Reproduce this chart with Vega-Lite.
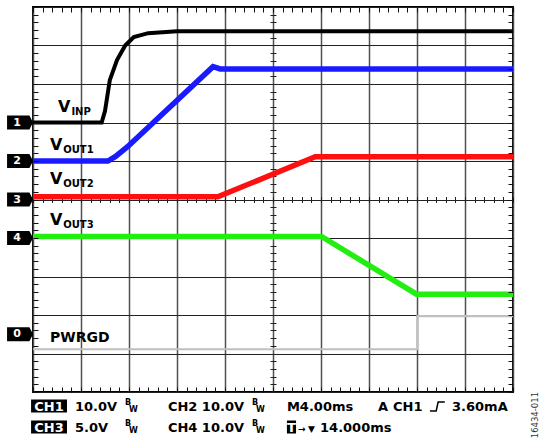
{
  "$schema": "https://vega.github.io/schema/vega-lite/v6.json",
  "width": 480,
  "height": 385,
  "autosize": "none",
  "padding": {"left": 33, "top": 7, "right": 29, "bottom": 48},
  "background": "white",
  "config": {
    "view": {"stroke": "#000000", "strokeWidth": 2},
    "text": {"font": "DejaVu Sans"}
  },
  "datasets": {
    "traces": [
      {"ch": "VINP", "x": 0, "y": 7.0},
      {"ch": "VINP", "x": 1.43, "y": 7.0},
      {"ch": "VINP", "x": 1.5, "y": 7.3},
      {"ch": "VINP", "x": 1.6, "y": 8.1},
      {"ch": "VINP", "x": 1.75, "y": 8.62},
      {"ch": "VINP", "x": 1.92, "y": 9.0},
      {"ch": "VINP", "x": 2.1, "y": 9.22},
      {"ch": "VINP", "x": 2.4, "y": 9.32},
      {"ch": "VINP", "x": 3.0, "y": 9.37},
      {"ch": "VINP", "x": 10, "y": 9.37},
      {"ch": "VOUT1", "x": 0, "y": 6.0},
      {"ch": "VOUT1", "x": 1.56, "y": 6.0},
      {"ch": "VOUT1", "x": 1.72, "y": 6.12},
      {"ch": "VOUT1", "x": 1.97, "y": 6.37},
      {"ch": "VOUT1", "x": 3.75, "y": 8.45},
      {"ch": "VOUT1", "x": 3.9, "y": 8.39},
      {"ch": "VOUT1", "x": 10, "y": 8.39},
      {"ch": "VOUT2", "x": 0, "y": 5.07},
      {"ch": "VOUT2", "x": 3.85, "y": 5.07},
      {"ch": "VOUT2", "x": 5.88, "y": 6.11},
      {"ch": "VOUT2", "x": 10, "y": 6.11},
      {"ch": "VOUT3", "x": 0, "y": 4.04},
      {"ch": "VOUT3", "x": 6.01, "y": 4.04},
      {"ch": "VOUT3", "x": 7.99, "y": 2.54},
      {"ch": "VOUT3", "x": 10, "y": 2.54},
      {"ch": "PWRGD", "x": 0, "y": 1.11},
      {"ch": "PWRGD", "x": 8.01, "y": 1.11},
      {"ch": "PWRGD", "x": 8.01, "y": 1.97},
      {"ch": "PWRGD", "x": 10, "y": 1.97}
    ],
    "markers": [
      {"num": "1", "x": -0.27, "y": 7.0},
      {"num": "2", "x": -0.27, "y": 6.0},
      {"num": "3", "x": -0.27, "y": 5.0},
      {"num": "4", "x": -0.27, "y": 4.0},
      {"num": "0", "x": -0.27, "y": 1.5}
    ],
    "labels": [
      {"part": "V", "text": "V", "x": 0.52, "y": 7.27},
      {"part": "sub", "text": "INP", "x": 0.8, "y": 7.19},
      {"part": "V", "text": "V", "x": 0.354, "y": 6.29},
      {"part": "sub", "text": "OUT1", "x": 0.63, "y": 6.21},
      {"part": "V", "text": "V", "x": 0.354, "y": 5.4},
      {"part": "sub", "text": "OUT2", "x": 0.63, "y": 5.32},
      {"part": "V", "text": "V", "x": 0.354, "y": 4.34},
      {"part": "sub", "text": "OUT3", "x": 0.63, "y": 4.26},
      {"part": "name", "text": "PWRGD", "x": 0.354, "y": 1.3}
    ],
    "boxes": [
      {"x": -0.04, "x2": 0.708, "y": -0.195, "y2": -0.532},
      {"x": -0.04, "x2": 0.708, "y": -0.74, "y2": -1.078},
      {"x": 5.29, "x2": 5.48, "y": -0.74, "y2": -1.078}
    ],
    "footer": [
      {"kind": "inv", "text": "CH1", "x": 0.334, "y": -0.494},
      {"kind": "inv", "text": "CH3", "x": 0.334, "y": -1.039},
      {"kind": "inv", "text": "T", "x": 5.385, "y": -1.039},
      {"kind": "main", "text": "10.0V", "x": 0.875, "y": -0.494},
      {"kind": "main", "text": "CH2 10.0V", "x": 2.81, "y": -0.494},
      {"kind": "main", "text": "M4.00ms", "x": 5.29, "y": -0.494},
      {"kind": "main", "text": "A", "x": 7.19, "y": -0.494},
      {"kind": "main", "text": "CH1", "x": 7.5, "y": -0.494},
      {"kind": "main", "text": "3.60mA", "x": 8.73, "y": -0.494},
      {"kind": "main", "text": "5.0V", "x": 0.875, "y": -1.039},
      {"kind": "main", "text": "CH4 10.0V", "x": 2.81, "y": -1.039},
      {"kind": "main", "text": "14.000ms", "x": 5.98, "y": -1.039},
      {"kind": "sup", "text": "B", "x": 1.917, "y": -0.338},
      {"kind": "sup", "text": "W", "x": 2.0, "y": -0.52},
      {"kind": "sup", "text": "B", "x": 4.56, "y": -0.338},
      {"kind": "sup", "text": "W", "x": 4.645, "y": -0.52},
      {"kind": "sup", "text": "B", "x": 1.917, "y": -0.883},
      {"kind": "sup", "text": "W", "x": 2.0, "y": -1.065},
      {"kind": "sup", "text": "B", "x": 4.56, "y": -0.883},
      {"kind": "sup", "text": "W", "x": 4.645, "y": -1.065},
      {"kind": "sym", "text": "→", "x": 5.52, "y": -1.039},
      {"kind": "sym", "text": "▼", "x": 5.73, "y": -1.039}
    ],
    "edge": [
      {"x": 8.27, "y": -0.494},
      {"x": 8.4, "y": -0.494},
      {"x": 8.44, "y": -0.26},
      {"x": 8.58, "y": -0.26}
    ],
    "code": [
      {"text": "16434-011", "x": 10.458, "y": -0.6}
    ]
  },
  "resolve": {"axis": {"x": "independent", "y": "independent"}},
  "layer": [
    {
      "data": {"name": "traces"},
      "transform": [{"filter": "datum.ch === 'VOUT1' || datum.ch === 'VOUT2' || datum.ch === 'VOUT3'"}],
      "mark": {"type": "line", "clip": false, "strokeWidth": 5.5},
      "encoding": {
        "x": {"field": "x", "type": "quantitative", "scale": {"domain": [0, 10], "nice": false, "zero": false},
          "axis": {"orient": "bottom", "values": [0,1,2,3,4,5,6,7,8,9,10], "grid": true, "gridColor": "#505050", "gridWidth": 1.5, "gridOpacity": 1, "ticks": false, "labels": false, "domain": false, "title": null}},
        "y": {"field": "y", "type": "quantitative", "scale": {"domain": [0, 10], "nice": false, "zero": false},
          "axis": {"orient": "left", "values": [0,1,2,3,4,5,6,7,8,9,10], "grid": true, "gridColor": "#222222", "gridWidth": 1, "gridOpacity": 1, "ticks": false, "labels": false, "domain": false, "title": null}},
        "color": {"field": "ch", "type": "nominal", "legend": null,
          "scale": {"domain": ["VINP", "VOUT1", "VOUT2", "VOUT3", "PWRGD"], "range": ["#000000", "#1a1aff", "#ff1010", "#22ee11", "#c0c0c0"]}},
        "order": {"value": null}
      }
    },
    {
      "data": {"name": "traces"},
      "transform": [{"filter": "datum.ch === 'VINP'"}],
      "mark": {"type": "line", "clip": false, "strokeWidth": 4, "color": "#000000"},
      "encoding": {
        "x": {"field": "x", "type": "quantitative", "scale": {"domain": [0, 10], "nice": false, "zero": false}, "axis": null},
        "y": {"field": "y", "type": "quantitative", "scale": {"domain": [0, 10], "nice": false, "zero": false}, "axis": null},
        "order": {"value": null}
      }
    },
    {
      "data": {"name": "traces"},
      "transform": [{"filter": "datum.ch === 'PWRGD'"}],
      "mark": {"type": "line", "clip": false, "strokeWidth": 2.2, "color": "#c0c0c0"},
      "encoding": {
        "x": {"field": "x", "type": "quantitative", "scale": {"domain": [0, 10], "nice": false, "zero": false}, "axis": null},
        "y": {"field": "y", "type": "quantitative", "scale": {"domain": [0, 10], "nice": false, "zero": false}, "axis": null},
        "order": {"value": null}
      }
    },
    {
      "data": {"name": "markers"},
      "mark": {"type": "point", "filled": true, "clip": false, "opacity": 1, "color": "#000000", "size": 676,
        "shape": "M-1,-0.54L0.72,-0.54L1,0L0.72,0.54L-1,0.54Z"},
      "encoding": {
        "x": {"field": "x", "type": "quantitative", "scale": {"domain": [0, 10], "nice": false, "zero": false},
          "axis": {"orient": "top", "values": [0,0.2,0.4,0.6,0.8,1,1.2,1.4,1.6,1.8,2,2.2,2.4,2.6,2.8,3,3.2,3.4,3.6,3.8,4,4.2,4.4,4.6,4.8,5,5.2,5.4,5.6,5.8,6,6.2,6.4,6.6,6.8,7,7.2,7.4,7.6,7.8,8,8.2,8.4,8.6,8.8,9,9.2,9.4,9.6,9.8,10], "grid": false, "ticks": true, "tickSize": -5, "tickColor": "#111111", "tickWidth": 1, "labels": false, "domain": false, "title": null, "zindex": 1}},
        "y": {"field": "y", "type": "quantitative", "scale": {"domain": [0, 10], "nice": false, "zero": false},
          "axis": {"orient": "left", "values": [0,0.2,0.4,0.6,0.8,1,1.2,1.4,1.6,1.8,2,2.2,2.4,2.6,2.8,3,3.2,3.4,3.6,3.8,4,4.2,4.4,4.6,4.8,5,5.2,5.4,5.6,5.8,6,6.2,6.4,6.6,6.8,7,7.2,7.4,7.6,7.8,8,8.2,8.4,8.6,8.8,9,9.2,9.4,9.6,9.8,10], "grid": false, "ticks": true, "tickSize": -5, "tickColor": "#111111", "tickWidth": 1, "labels": false, "domain": false, "title": null, "zindex": 1}}
      }
    },
    {
      "data": {"name": "markers"},
      "mark": {"type": "text", "clip": false, "color": "#ffffff", "font": "DejaVu Sans", "fontWeight": "bold", "fontSize": 11, "align": "center", "baseline": "middle", "dx": -3},
      "encoding": {
        "x": {"field": "x", "type": "quantitative", "scale": {"domain": [0, 10], "nice": false, "zero": false},
          "axis": {"orient": "bottom", "values": [0,0.2,0.4,0.6,0.8,1,1.2,1.4,1.6,1.8,2,2.2,2.4,2.6,2.8,3,3.2,3.4,3.6,3.8,4,4.2,4.4,4.6,4.8,5,5.2,5.4,5.6,5.8,6,6.2,6.4,6.6,6.8,7,7.2,7.4,7.6,7.8,8,8.2,8.4,8.6,8.8,9,9.2,9.4,9.6,9.8,10], "grid": false, "ticks": true, "tickSize": -5, "tickColor": "#111111", "tickWidth": 1, "labels": false, "domain": false, "title": null, "zindex": 1}},
        "y": {"field": "y", "type": "quantitative", "scale": {"domain": [0, 10], "nice": false, "zero": false},
          "axis": {"orient": "right", "values": [0,0.2,0.4,0.6,0.8,1,1.2,1.4,1.6,1.8,2,2.2,2.4,2.6,2.8,3,3.2,3.4,3.6,3.8,4,4.2,4.4,4.6,4.8,5,5.2,5.4,5.6,5.8,6,6.2,6.4,6.6,6.8,7,7.2,7.4,7.6,7.8,8,8.2,8.4,8.6,8.8,9,9.2,9.4,9.6,9.8,10], "grid": false, "ticks": true, "tickSize": -5, "tickColor": "#111111", "tickWidth": 1, "labels": false, "domain": false, "title": null, "zindex": 1}},
        "text": {"field": "num", "type": "nominal"}
      }
    },
    {
      "data": {"name": "labels"},
      "transform": [{"filter": "datum.part === 'V'"}],
      "mark": {"type": "text", "clip": false, "color": "#000000", "font": "DejaVu Sans", "fontWeight": "bold", "fontSize": 16, "align": "left", "baseline": "alphabetic"},
      "encoding": {
        "x": {"field": "x", "type": "quantitative", "scale": {"domain": [0, 10], "nice": false, "zero": false},
          "axis": {"orient": "bottom", "offset": -195.5, "values": [0,0.2,0.4,0.6,0.8,1,1.2,1.4,1.6,1.8,2,2.2,2.4,2.6,2.8,3,3.2,3.4,3.6,3.8,4,4.2,4.4,4.6,4.8,5,5.2,5.4,5.6,5.8,6,6.2,6.4,6.6,6.8,7,7.2,7.4,7.6,7.8,8,8.2,8.4,8.6,8.8,9,9.2,9.4,9.6,9.8,10], "grid": false, "ticks": true, "tickSize": 6, "tickColor": "#222222", "tickWidth": 1, "labels": false, "domain": false, "title": null, "zindex": 0}},
        "y": {"field": "y", "type": "quantitative", "scale": {"domain": [0, 10], "nice": false, "zero": false},
          "axis": {"orient": "left", "offset": -243, "values": [0,0.2,0.4,0.6,0.8,1,1.2,1.4,1.6,1.8,2,2.2,2.4,2.6,2.8,3,3.2,3.4,3.6,3.8,4,4.2,4.4,4.6,4.8,5,5.2,5.4,5.6,5.8,6,6.2,6.4,6.6,6.8,7,7.2,7.4,7.6,7.8,8,8.2,8.4,8.6,8.8,9,9.2,9.4,9.6,9.8,10], "grid": false, "ticks": true, "tickSize": 6, "tickColor": "#222222", "tickWidth": 1, "labels": false, "domain": false, "title": null, "zindex": 0}},
        "text": {"field": "text", "type": "nominal"}
      }
    },
    {
      "data": {"name": "labels"},
      "transform": [{"filter": "datum.part === 'sub'"}],
      "mark": {"type": "text", "clip": false, "color": "#000000", "font": "DejaVu Sans", "fontWeight": "bold", "fontSize": 10, "align": "left", "baseline": "alphabetic"},
      "encoding": {
        "x": {"field": "x", "type": "quantitative", "scale": {"domain": [0, 10], "nice": false, "zero": false}, "axis": null},
        "y": {"field": "y", "type": "quantitative", "scale": {"domain": [0, 10], "nice": false, "zero": false}, "axis": null},
        "text": {"field": "text", "type": "nominal"}
      }
    },
    {
      "data": {"name": "labels"},
      "transform": [{"filter": "datum.part === 'name'"}],
      "mark": {"type": "text", "clip": false, "color": "#000000", "font": "DejaVu Sans", "fontWeight": "bold", "fontSize": 14, "align": "left", "baseline": "alphabetic"},
      "encoding": {
        "x": {"field": "x", "type": "quantitative", "scale": {"domain": [0, 10], "nice": false, "zero": false}, "axis": null},
        "y": {"field": "y", "type": "quantitative", "scale": {"domain": [0, 10], "nice": false, "zero": false}, "axis": null},
        "text": {"field": "text", "type": "nominal"}
      }
    },
    {
      "data": {"name": "boxes"},
      "mark": {"type": "rect", "clip": false, "color": "#000000"},
      "encoding": {
        "x": {"field": "x", "type": "quantitative", "scale": {"domain": [0, 10], "nice": false, "zero": false}, "axis": null},
        "x2": {"field": "x2"},
        "y": {"field": "y", "type": "quantitative", "scale": {"domain": [0, 10], "nice": false, "zero": false}, "axis": null},
        "y2": {"field": "y2"}
      }
    },
    {
      "data": {"name": "footer"},
      "transform": [{"filter": "datum.kind === 'inv'"}],
      "mark": {"type": "text", "clip": false, "color": "#ffffff", "font": "DejaVu Sans", "fontWeight": "bold", "fontSize": 13, "align": "center", "baseline": "alphabetic"},
      "encoding": {
        "x": {"field": "x", "type": "quantitative", "scale": {"domain": [0, 10], "nice": false, "zero": false}, "axis": null},
        "y": {"field": "y", "type": "quantitative", "scale": {"domain": [0, 10], "nice": false, "zero": false}, "axis": null},
        "text": {"field": "text", "type": "nominal"}
      }
    },
    {
      "data": {"name": "footer"},
      "transform": [{"filter": "datum.kind === 'main'"}],
      "mark": {"type": "text", "clip": false, "color": "#000000", "font": "DejaVu Sans", "fontWeight": "bold", "fontSize": 13, "align": "left", "baseline": "alphabetic"},
      "encoding": {
        "x": {"field": "x", "type": "quantitative", "scale": {"domain": [0, 10], "nice": false, "zero": false}, "axis": null},
        "y": {"field": "y", "type": "quantitative", "scale": {"domain": [0, 10], "nice": false, "zero": false}, "axis": null},
        "text": {"field": "text", "type": "nominal"}
      }
    },
    {
      "data": {"name": "footer"},
      "transform": [{"filter": "datum.kind === 'sup'"}],
      "mark": {"type": "text", "clip": false, "color": "#000000", "font": "DejaVu Sans", "fontWeight": "bold", "fontSize": 8, "align": "left", "baseline": "alphabetic"},
      "encoding": {
        "x": {"field": "x", "type": "quantitative", "scale": {"domain": [0, 10], "nice": false, "zero": false}, "axis": null},
        "y": {"field": "y", "type": "quantitative", "scale": {"domain": [0, 10], "nice": false, "zero": false}, "axis": null},
        "text": {"field": "text", "type": "nominal"}
      }
    },
    {
      "data": {"name": "footer"},
      "transform": [{"filter": "datum.kind === 'sym'"}],
      "mark": {"type": "text", "clip": false, "color": "#000000", "font": "DejaVu Sans", "fontWeight": "bold", "fontSize": 9, "align": "left", "baseline": "alphabetic"},
      "encoding": {
        "x": {"field": "x", "type": "quantitative", "scale": {"domain": [0, 10], "nice": false, "zero": false}, "axis": null},
        "y": {"field": "y", "type": "quantitative", "scale": {"domain": [0, 10], "nice": false, "zero": false}, "axis": null},
        "text": {"field": "text", "type": "nominal"}
      }
    },
    {
      "data": {"name": "edge"},
      "mark": {"type": "line", "clip": false, "color": "#000000", "strokeWidth": 1.5},
      "encoding": {
        "x": {"field": "x", "type": "quantitative", "scale": {"domain": [0, 10], "nice": false, "zero": false}, "axis": null},
        "y": {"field": "y", "type": "quantitative", "scale": {"domain": [0, 10], "nice": false, "zero": false}, "axis": null},
        "order": {"value": null}
      }
    },
    {
      "data": {"name": "code"},
      "mark": {"type": "text", "clip": false, "color": "#333333", "font": "DejaVu Sans", "fontSize": 8.5, "angle": 270, "align": "center", "baseline": "middle"},
      "encoding": {
        "x": {"field": "x", "type": "quantitative", "scale": {"domain": [0, 10], "nice": false, "zero": false}, "axis": null},
        "y": {"field": "y", "type": "quantitative", "scale": {"domain": [0, 10], "nice": false, "zero": false}, "axis": null},
        "text": {"field": "text", "type": "nominal"}
      }
    }
  ]
}
